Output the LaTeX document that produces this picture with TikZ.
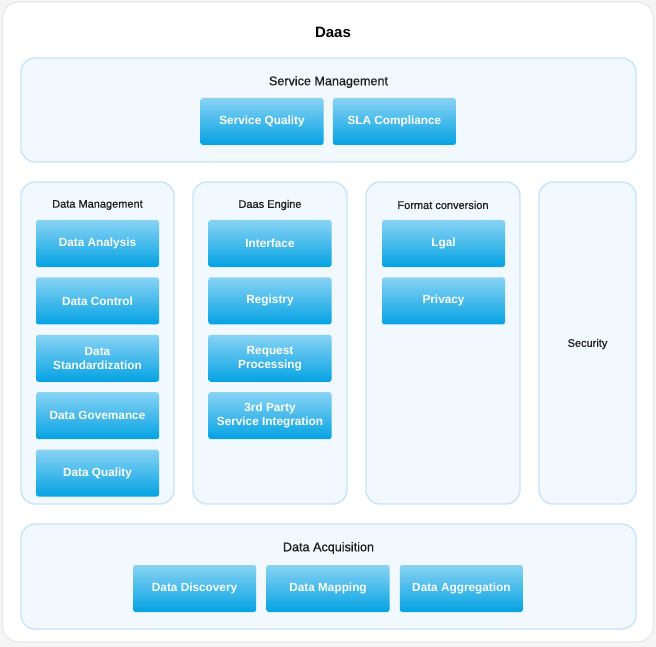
\documentclass[tikz,border=0pt]{standalone}
\usepackage{fontspec}
\setmainfont{Liberation Sans}
\newfontfamily\medfont[FakeBold=0.6]{Liberation Sans}
\usetikzlibrary{positioning}

\definecolor{panelfill}{HTML}{F1F8FE}
\definecolor{paneldraw}{HTML}{C6E4FA}
\definecolor{btntop}{HTML}{88D3F4}
\definecolor{btnbot}{HTML}{04A2E3}
\definecolor{titletext}{HTML}{1C1C1C}

\begin{document}
\begin{tikzpicture}[x=1pt,y=-1pt,
  panel/.style={draw=paneldraw,line width=1.4pt,fill=panelfill,rounded corners=14pt,inner sep=0pt},
  ptitle/.style={text=titletext,font=\medfont\fontsize{12.6}{14}\selectfont},
  ctitle/.style={text=titletext,font=\medfont\fontsize{11}{12}\selectfont},
  btn/.style={rounded corners=2.5pt,top color=btntop,bottom color=btnbot,text=white,
    font=\fontsize{11.8}{14}\selectfont\bfseries,align=center,
    minimum width=123pt,minimum height=47pt,inner sep=0pt},
  node distance=10pt]

%Page and outer card
\useasboundingbox (0,0) rectangle (656,647);
\fill[black!4] (0,0) rectangle (656,647);
\node[draw=black!9,fill=white,line width=1.2pt,rounded corners=16pt,
  minimum width=651pt,minimum height=640pt,inner sep=0pt] (daas) at (328,322) {};
\node[text=black,font=\fontsize{15}{17}\selectfont\bfseries] (daastitle) at (333,32) {Daas};

%Service Management
\node[panel,minimum width=615pt,minimum height=104pt] (sm) at (328.5,110) {};
\node[ptitle] (smtitle) at (328.5,82) {Service Management};
\node[btn] (squality) at (262,121.5) {Service Quality};
\node[btn,right=9pt of squality] (sla) {SLA Compliance};

%Data Management
\node[panel,minimum width=153pt,minimum height=322pt] (dm) at (97.5,343) {};
\node[ctitle] (dmtitle) at (97.5,205) {Data Management};
\node[btn] (danalysis) at (97.5,243.5) {Data Analysis};
\node[btn,below=of danalysis] (dcontrol) {Data Control};
\node[btn,below=of dcontrol] (dstand) {Data\\Standardization};
\node[btn,below=of dstand] (dgov) {Data Govemance};
\node[btn,below=of dgov] (dquality) {Data Quality};

%Daas Engine
\node[panel,minimum width=154pt,minimum height=322pt] (de) at (270,343) {};
\node[ctitle] (detitle) at (270,205) {Daas Engine};
\node[btn] (interface) at (270,243.5) {Interface};
\node[btn,below=of interface] (registry) {Registry};
\node[btn,below=of registry] (request) {Request\\Processing};
\node[btn,below=of request] (thirdparty) {3rd Party\\Service Integration};

%Format conversion
\node[panel,minimum width=154pt,minimum height=322pt] (fc) at (443,343) {};
\node[ctitle] (fctitle) at (443,205) {Format conversion};
\node[btn] (lgal) at (443.5,243.5) {Lgal};
\node[btn,below=of lgal] (privacy) {Privacy};

%Security
\node[panel,minimum width=97pt,minimum height=322pt] (sec) at (587.5,343) {};
\node[ctitle] (sectitle) at (587.5,344) {Security};

%Data Acquisition
\node[panel,minimum width=615pt,minimum height=105pt] (da) at (328.5,576.5) {};
\node[ptitle] (datitle) at (328.5,548) {Data Acquisition};
\node[btn] (dmapping) at (328,588.5) {Data Mapping};
\node[btn,left=10pt of dmapping] (ddiscovery) {Data Discovery};
\node[btn,right=10pt of dmapping] (daggregation) {Data Aggregation};

\end{tikzpicture}
\end{document}
